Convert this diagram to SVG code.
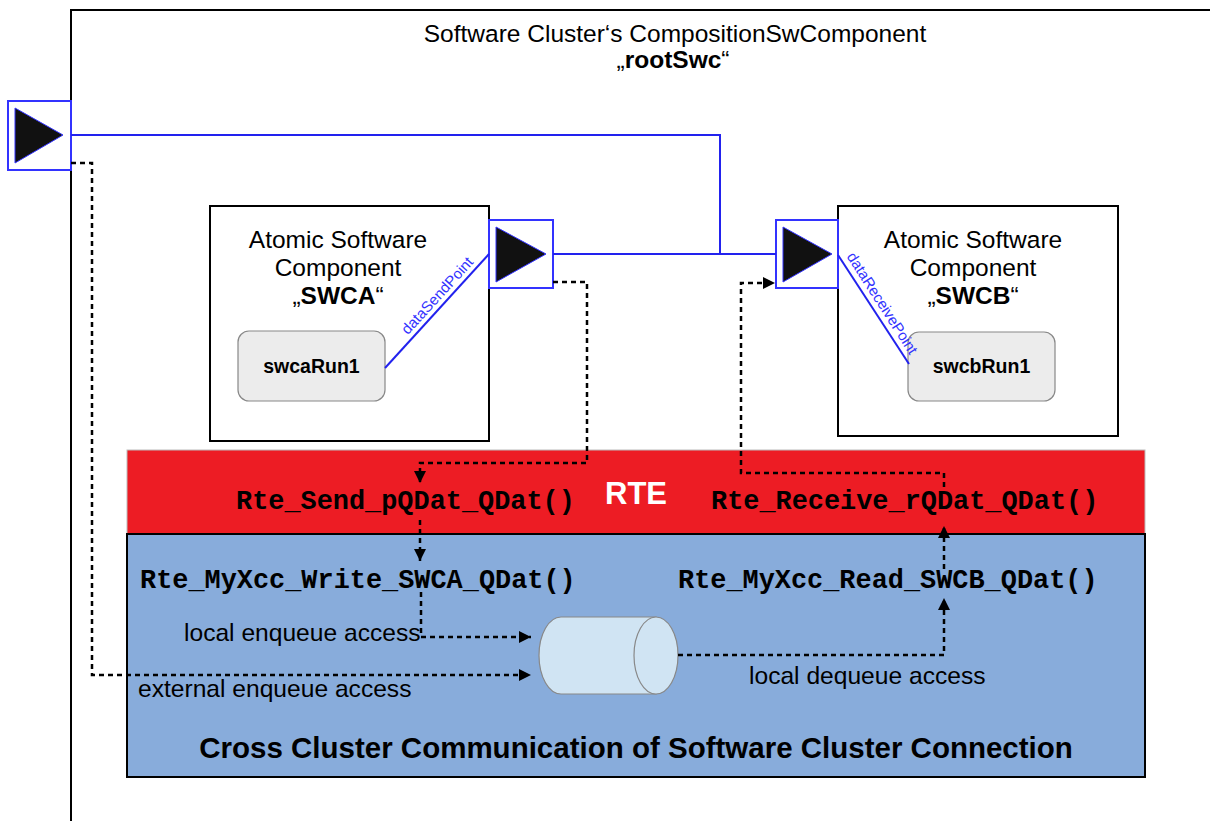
<svg xmlns="http://www.w3.org/2000/svg" width="1210" height="821" viewBox="0 0 1210 821">
<style>
.sans{font-family:'Liberation Sans',Arial,sans-serif;fill:#000}
.mono{font-family:'Liberation Mono','Courier New',monospace;font-weight:bold;font-size:26.9px;fill:#000}
.comp{fill:#fff;stroke:#000;stroke-width:2}
.port{fill:#fff;stroke:#3333ff;stroke-width:2}
.tri{fill:#111;stroke:#3333ff;stroke-width:1}
.run{fill:#ececec;stroke:#888;stroke-width:1.2}
.blue{fill:none;stroke:#2222ee;stroke-width:2}
.dash{fill:none;stroke:#000;stroke-width:2.5;stroke-dasharray:5 4}
</style>
<defs>
<marker id="arr" markerUnits="userSpaceOnUse" markerWidth="13" markerHeight="13" refX="12" refY="6" orient="auto">
<path d="M0,0 L12,6 L0,12 z" fill="#000"/>
</marker>
</defs>
<rect width="1210" height="821" fill="#fff"/>
<g id="frame">
<path d="M71,821 V10 H1210" fill="none" stroke="#000" stroke-width="2"/>
<text class="sans" x="675" y="42" font-size="24.5" text-anchor="middle">Software Cluster‘s CompositionSwComponent</text>
<text class="sans" x="673" y="68" font-size="24.5" text-anchor="middle">„<tspan font-weight="bold">rootSwc</tspan>“</text>
</g>
<g id="rte">
<rect x="127" y="450" width="1018" height="84" fill="#ed1c24" stroke="#bbb" stroke-width="1"/>
<text class="sans" x="636" y="504" font-size="31" font-weight="bold" text-anchor="middle" style="fill:#fff">RTE</text>
<text class="mono" x="236" y="509">Rte_Send_pQDat_QDat()</text>
<text class="mono" x="711" y="509">Rte_Receive_rQDat_QDat()</text>
</g>
<g id="xcc">
<rect x="127" y="534" width="1018" height="243" fill="#88acdb" stroke="#000" stroke-width="2"/>
<text class="mono" x="140" y="588">Rte_MyXcc_Write_SWCA_QDat()</text>
<text class="mono" x="678" y="588">Rte_MyXcc_Read_SWCB_QDat()</text>
<text class="sans" x="184" y="641" font-size="24.6">local enqueue access</text>
<text class="sans" x="138" y="697" font-size="24.6">external enqueue access</text>
<text class="sans" x="749" y="684" font-size="24.6">local dequeue access</text>
<text class="sans" x="636" y="758" font-size="29.5" font-weight="bold" text-anchor="middle">Cross Cluster Communication of Software Cluster Connection</text>
</g>
<g id="queue">
<path d="M561,617 H656 V694 H561 A22,38.5 0 0 1 561,617 z" fill="#d0e4f3" stroke="#888" stroke-width="1.2"/>
<ellipse cx="656" cy="655.5" rx="22" ry="38.5" fill="#d0e4f3" stroke="#888" stroke-width="1.2"/>
</g>
<g id="swca">
<rect class="comp" x="210" y="206" width="279" height="235"/>
<text class="sans" x="338" y="248" font-size="24.5" text-anchor="middle">Atomic Software</text>
<text class="sans" x="338" y="276" font-size="24.5" text-anchor="middle">Component</text>
<text class="sans" x="338" y="304" font-size="24.5" text-anchor="middle">„<tspan font-weight="bold">SWCA</tspan>“</text>
<rect class="run" x="238" y="331" width="147" height="70" rx="11"/>
<text class="sans" x="311.5" y="373" font-size="19.5" font-weight="bold" text-anchor="middle">swcaRun1</text>
</g>
<g id="swcb">
<rect class="comp" x="838" y="206" width="280" height="230"/>
<text class="sans" x="973" y="248" font-size="24.5" text-anchor="middle">Atomic Software</text>
<text class="sans" x="973" y="276" font-size="24.5" text-anchor="middle">Component</text>
<text class="sans" x="973" y="304" font-size="24.5" text-anchor="middle">„<tspan font-weight="bold">SWCB</tspan>“</text>
<rect class="run" x="908" y="332" width="147" height="69" rx="11"/>
<text class="sans" x="981.5" y="373" font-size="19.5" font-weight="bold" text-anchor="middle">swcbRun1</text>
</g>
<g id="portRoot">
<rect class="port" x="8" y="101" width="63" height="69"/>
<path class="tri" d="M15,108 L63,135 L15,163 z"/>
</g>
<g id="portA">
<rect class="port" x="489" y="220" width="64" height="68"/>
<path class="tri" d="M496,227 L546,254 L496,282 z"/>
</g>
<g id="portB">
<rect class="port" x="776" y="220" width="62" height="68"/>
<path class="tri" d="M783,227 L832,254 L783,282 z"/>
</g>
<g id="connectors">
<path class="blue" d="M71,135 H720 V254"/>
<path class="blue" d="M553,254 H776"/>
<path class="blue" d="M385,368 L489,254"/>
<path class="blue" d="M838,255 L909,364"/>
<text class="sans" transform="translate(441,299) rotate(-47.6)" font-size="15" text-anchor="middle" style="fill:#3333ff">dataSendPoint</text>
<text class="sans" transform="translate(878,306) rotate(57.2)" font-size="15" text-anchor="middle" style="fill:#3333ff">dataReceivePoint</text>
<path class="dash" d="M553,282 H587 V463 H420 V483" marker-end="url(#arr)"/>
<path class="dash" d="M420,520 V561" marker-end="url(#arr)"/>
<path class="dash" d="M421,592 V637 H531" marker-end="url(#arr)"/>
<path class="dash" d="M71,163 H92 V675 H531" marker-end="url(#arr)"/>
<path class="dash" d="M678,655 H944 V598" marker-end="url(#arr)"/>
<path class="dash" d="M944,569 V526" marker-end="url(#arr)"/>
<path class="dash" d="M944,487 V473 H741 V283 H775" marker-end="url(#arr)"/>
</g>
</svg>
